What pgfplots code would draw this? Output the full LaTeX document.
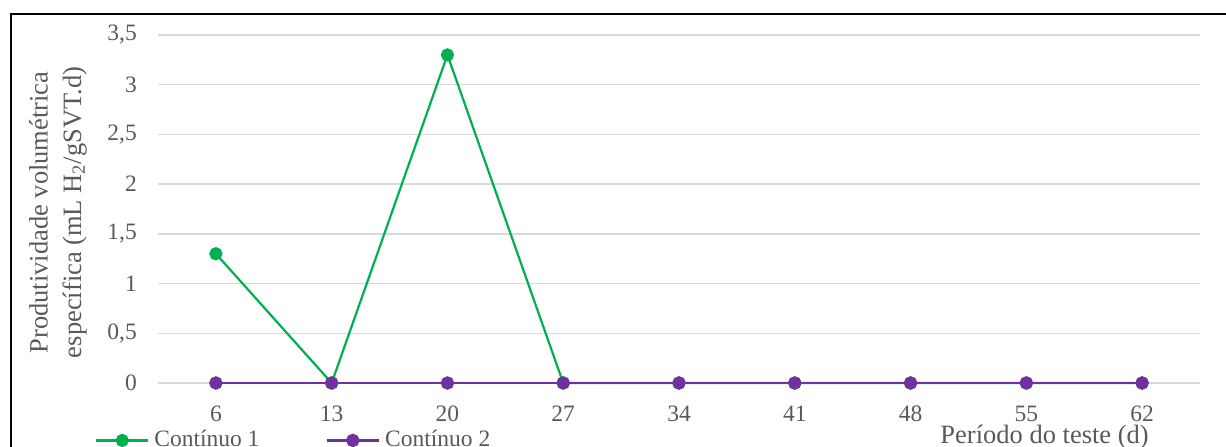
\documentclass[border=0pt]{standalone}
\usepackage{pgfplots}
\pgfplotsset{compat=1.18}
\usepackage{fontspec}
\setmainfont{Liberation Serif}
\definecolor{verde}{HTML}{00B050}
\definecolor{roxo}{HTML}{7030A0}
\definecolor{grade}{HTML}{D9D9D9}
\definecolor{texto}{HTML}{595959}

\begin{document}
\fontsize{23.5bp}{28bp}\selectfont
\begin{tikzpicture}
\useasboundingbox (0,0) rectangle (1226bp,447bp);
% moldura
\draw[line width=2bp, black] (11bp,0) -- (11bp,433bp) -- (1226bp,433bp);
\begin{axis}[
  at={(158bp,64bp)}, anchor=south west, scale only axis,
  width=1042bp, height=348bp,
  xmin=-0.5, xmax=8.5, ymin=0, ymax=3.5,
  xtick={0,...,8}, xticklabels={6,13,20,27,34,41,48,55,62},
  ytick={0,0.5,...,3.5},
  /pgf/number format/use comma,
  /pgf/number format/assume math mode=true,
  axis line style={draw=none}, tick style={draw=none},
  ymajorgrids, grid style={grade, line width=1.5bp},
  clip=false,
  tick label style={font=\fontsize{23.5bp}{28bp}\selectfont, text=texto, inner sep=0pt},
  yticklabel style={xshift=-21bp},
  xticklabel style={yshift=-23bp},
  xlabel={Período do teste (d)},
  xlabel style={at={(axis description cs:0.951,-0.175)}, anchor=base east, inner sep=0pt,
    font=\fontsize{26.5bp}{32bp}\selectfont, text=texto},
  ylabel={Produtividade volumétrica\\específica (mL H\textsubscript{2}/gSVT.d)},
  ylabel style={at={(axis description cs:-0.096,0.49)}, anchor=center, align=center,
    font=\fontsize{26.5bp}{33.5bp}\selectfont, text=texto},
  legend columns=2,
  legend style={draw=none, fill=none, at={(axis description cs:-0.0605,-0.165)}, anchor=base west,
    inner sep=0pt, font=\fontsize{23.5bp}{28bp}\selectfont, text=texto,
    /tikz/every odd column/.append style={column sep=3bp},
    /tikz/every even column/.append style={column sep=64bp}},
  legend cell align=left,
  legend image code/.code={\draw[mark repeat=2, mark phase=2, #1] plot coordinates {(0bp,0bp) (26bp,0bp) (52bp,0bp)};},
]
\addplot[verde, line width=2.2bp, mark=*, mark size=5.5bp, mark options={fill=verde, draw=verde}]
  coordinates {(0,1.3) (1,0) (2,3.3) (3,0) (4,0) (5,0) (6,0) (7,0) (8,0)};
\addlegendentry{Contínuo 1}
\addplot[roxo, line width=2.8bp, mark=*, mark size=5.3bp, mark options={fill=roxo, draw=roxo}]
  coordinates {(0,0) (1,0) (2,0) (3,0) (4,0) (5,0) (6,0) (7,0) (8,0)};
\addlegendentry{Contínuo 2}
\end{axis}
\end{tikzpicture}
\end{document}
